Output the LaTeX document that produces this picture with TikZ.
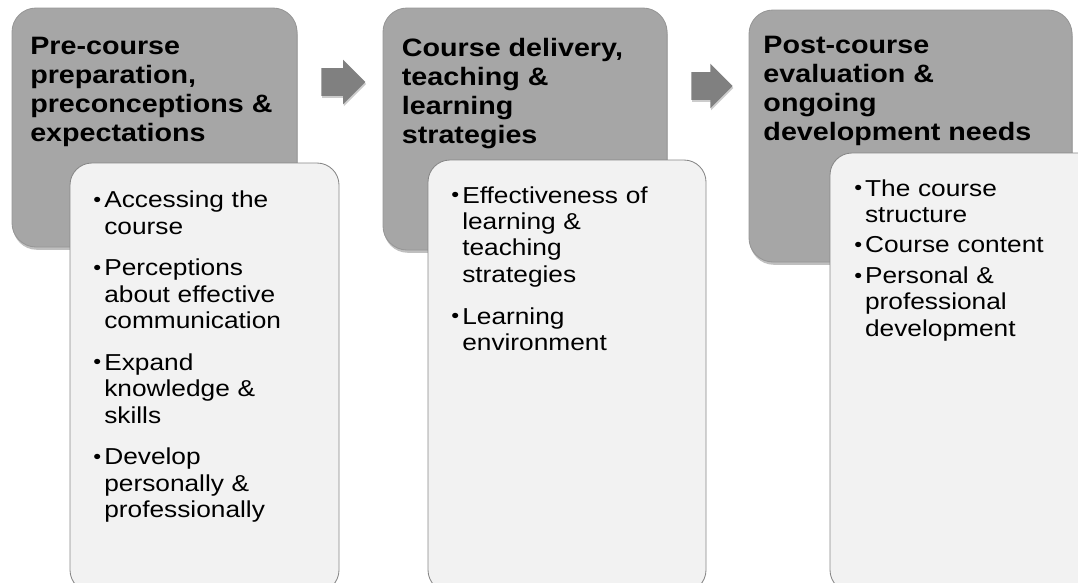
\documentclass[tikz,border=0pt]{standalone}
\usepackage{fontspec}
\setmainfont[FakeStretch=1.14]{Liberation Sans}
\usetikzlibrary{shapes.arrows,shadows}
\definecolor{hdgray}{RGB}{166,166,166}
\definecolor{hdline}{RGB}{150,150,150}
\definecolor{boxgray}{RGB}{242,242,242}
\definecolor{boxline}{RGB}{135,135,135}
\definecolor{arrgray}{RGB}{128,128,128}
\newlength{\bulw}\setlength{\bulw}{0.27cm}
\newcommand{\bitem}{\par\hangindent=\bulw\hangafter=1\noindent
  \makebox[\bulw][l]{\raisebox{0.9pt}{\fontsize{14}{14}\selectfont\textbullet}}}

\begin{document}
\begin{tikzpicture}
  \tikzstyle{hdbox}=[draw=hdline,line width=0.6pt,fill=hdgray,rounded corners=0.6cm,
    inner sep=0pt,outer sep=0pt,
    drop shadow={shadow xshift=0.02cm,shadow yshift=-0.07cm,opacity=0.25,fill=black}]
  \tikzstyle{hdtext}=[anchor=north west,inner sep=0pt,align=left,
    font=\bfseries\fontsize{17.9}{20.6}\selectfont]
  \tikzstyle{listbox}=[draw=boxline,line width=0.6pt,fill=boxgray,rounded corners=0.55cm,
    inner sep=0pt,outer sep=0pt]
  \tikzstyle{listtext}=[anchor=north west,inner sep=0pt,text width=6cm,align=left,
    font=\fontsize{16.4}{18.8}\selectfont]
  \tikzstyle{arr}=[single arrow,fill=arrgray,draw=none,inner sep=0.3375cm,
    single arrow head extend=0.2125cm,anchor=tail,
    drop shadow={shadow xshift=0.02cm,shadow yshift=-0.05cm,opacity=0.2,fill=black}]

  \useasboundingbox (0,0) rectangle (26.95,-14.575);
  \clip (0,0) rectangle (26.95,-14.575);

  % -- Stage headers --
  \node[hdbox,minimum width=7.125cm,minimum height=5.975cm] (h1) at (3.8625,-3.1875) {};
  \node[hdtext] (t1) at (0.75,-0.93) {Pre-course\\preparation,\\preconceptions \&\\expectations};

  \node[hdbox,minimum width=7.1cm,minimum height=6.05cm] (h2) at (13.125,-3.225) {};
  \node[hdtext] (t2) at (10.04,-0.95) {Course delivery,\\teaching \&\\learning\\strategies};

  \node[hdbox,minimum width=8.075cm,minimum height=6.3cm] (h3) at (22.7625,-3.4) {};
  \node[hdtext] (t3) at (19.08,-0.89) {Post-course\\evaluation \&\\ongoing\\development needs};

  % -- Arrows between stages --
  \node[arr,minimum height=1.1cm] (a1) at (8.025,-2.05) {};
  \node[arr,minimum height=0.85cm] (a2) at (17.275,-2.15) {};

  % -- Stage 1 list --
  \node[listbox,minimum width=6.725cm,minimum height=10.725cm] (b1) at (5.1125,-9.4375) {};
  \node[listtext] (l1) at (2.33,-4.145) {\setlength{\parskip}{0.38cm}%
    \bitem Accessing the\newline course
    \bitem Perceptions\newline about effective\newline communication
    \bitem Expand\newline knowledge \&\newline skills
    \bitem Develop\newline personally \&\newline professionally\par};

  % -- Stage 2 list --
  \node[listbox,minimum width=6.95cm,minimum height=10.8cm] (b2) at (14.175,-9.4) {};
  \node[listtext] (l2) at (11.28,-4.03) {\setlength{\parskip}{0.38cm}%
    \bitem Effectiveness of\newline learning \&\newline teaching\newline strategies
    \bitem Learning\newline environment\par};

  % -- Stage 3 list --
  \node[listbox,minimum width=7cm,minimum height=10.975cm] (b3) at (24.25,-9.3125) {};
  \node[listtext] (l3) at (21.35,-4.135) {\setlength{\parskip}{0.1cm}%
    \bitem The course\newline structure
    \bitem Course content
    \bitem Personal \&\newline professional\newline development\par};
\end{tikzpicture}
\end{document}
